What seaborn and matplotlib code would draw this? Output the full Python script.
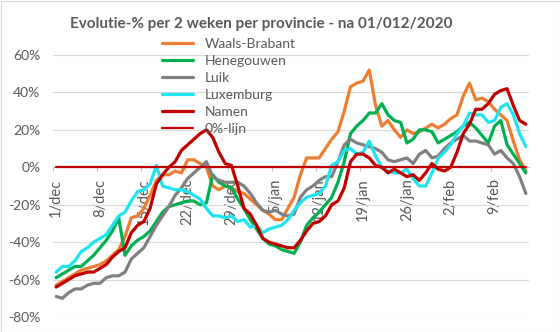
import matplotlib
matplotlib.use("Agg")
import matplotlib.pyplot as plt
import seaborn as sns
import pandas as pd
import numpy as np

# ---------------- data ----------------
days = list(range(76))  # 1 dec 2020 .. 14 feb 2021
tick_days = [0, 7, 14, 21, 28, 35, 42, 49, 56, 63, 70]
tick_labels = ["1/dec", "8/dec", "15/dec", "22/dec", "29/dec", "5/jan",
               "12/jan", "19/jan", "26/jan", "2/feb", "9/feb"]

waals_brabant = [-63, -61, -59, -57, -55, -54, -53, -52, -50, -47, -44, -37, -27, -26, -22, -15,
                 -7, -4, -4, -2, -3, 4, 4, 2, 0, -10, -12, -10, -11, -13, -14, -17, -20, -23,
                 -25, -28, -28, -22, -16, -4, 5, 5, 5, 10, 15, 19, 30, 43, 45, 46, 52, 33, 22,
                 25, 20, 16, 20, 18, 19, 21, 23, 21, 23, 26, 28, 38, 45, 36, 37, 35, 31, 28,
                 25, 14, 4, -2]
henegouwen = [-59, -57, -55, -53, -53, -50, -47, -43, -39, -34, -27, -47, -42, -39, -37, -34,
              -29, -24, -21, -20, -19, -18, -18, -20, -19, -4, -8, -10, -11, -17, -22, -28, -33,
              -38, -41, -42, -44, -45, -46, -40, -31, -27, -24, -20, -16, -8, 3, 18, 22, 25, 29,
              29, 34, 28, 25, 24, 13, 15, 20, 20, 19, 13, 15, 17, 19, 22, 24, 21, 17, 13, 22,
              25, 12, 7, 2, -3]
luik = [-69, -70, -67, -65, -65, -63, -62, -62, -59, -58, -58, -56, -49, -46, -43, -37, -31,
        -26, -21, -15, -11, -6, -3, 0, 3, -5, -7, -8, -8, -8, -10, -14, -19, -23, -24, -23,
        -25, -26, -25, -16, -12, -10, -7, -5, -5, 3, 12, 15, 13, 12, 11, 10, 8, 4, 3, 4, 5,
        2, 7, 9, 5, 6, 10, 13, 15, 17, 14, 14, 13, 12, 7, 9, 5, 2, -5, -14]
luxemburg = [-56, -53, -53, -50, -45, -43, -40, -38, -36, -31, -26, -24, -18, -13, -12, -9, 1,
             -10, -11, -12, -12, -13, -15, -17, -22, -26, -26, -27, -26, -29, -28, -32, -31,
             -35, -33, -32, -31, -28, -23, -19, -16, -15, -14, -10, 1, 3, 9, 10, 7, 8, 14, 6,
             0, -2, -3, -3, -1, -6, -10, -10, -3, 5, 8, 12, 18, 22, 29, 28, 28, 24, 25, 32, 34,
             28, 18, 11]
namen = [-64, -62, -60, -58, -57, -56, -56, -54, -52, -48, -45, -43, -35, -31, -29, -22, -9,
         -4, 0, 3, 9, 12, 15, 18, 20, 16, 8, 2, 1, -10, -22, -25, -31, -38, -40, -41, -42, -43,
         -43, -39, -34, -30, -29, -26, -20, -18, -11, 3, 7, 7, 5, 1, 0, -3, -1, -3, -5, -4,
         -7, -3, 2, -1, -2, 0, 8, 18, 23, 31, 31, 34, 39, 41, 42, 33, 25, 23]
nul_lijn = [0] * 76

series_names = ["Waals-Brabant", "Henegouwen", "Luik", "Luxemburg", "Namen"]
series_values = [waals_brabant, henegouwen, luik, luxemburg, namen]
colors = ["#ED7D31", "#00B050", "#808080", "#1EE3F0", "#C00000"]
zero_color = "#C00000"

# ---------------- style ----------------
sns.set_theme(style="white")
FONT = ["Lato", "DejaVu Sans"]
plt.rcParams["font.family"] = FONT
TXT = "#595959"

fig = plt.figure(figsize=(5.6, 3.32), dpi=100)
W, H = 560, 332
ax = fig.add_axes([53 / W, 15 / H, 476 / W, 262 / H])

df = pd.DataFrame({
    "dag": np.tile(days, len(series_names)),
    "waarde": np.concatenate(series_values),
    "provincie": np.repeat(series_names, len(days)),
})
df0 = pd.DataFrame({"dag": days, "waarde": nul_lijn, "provincie": "0%-lijn"})

sns.lineplot(data=df, x="dag", y="waarde", hue="provincie", hue_order=series_names,
             palette=colors, linewidth=2.3, ax=ax, legend=False, zorder=3)
sns.lineplot(data=df0, x="dag", y="waarde", color=zero_color, linewidth=1.6, ax=ax,
             legend=False, zorder=4)

ax.set_xlim(-0.5, 75.5)
ax.set_ylim(-80, 60)
yt = list(range(-80, 61, 20))
ax.set_yticks(yt)
ax.set_yticklabels([f"{v}%" for v in yt])
ax.yaxis.grid(True, color="#D9D9D9", linewidth=0.8, zorder=0)
ax.xaxis.grid(False)
ax.set_axisbelow(True)

for s in ["top", "right", "left"]:
    ax.spines[s].set_visible(False)
ax.spines["bottom"].set_position(("data", 0))
ax.spines["bottom"].set_color("#BFBFBF")
ax.spines["bottom"].set_linewidth(0.8)

ax.set_xticks(tick_days)
ax.set_xticklabels(tick_labels, rotation=90, va="top", ha="center")
ax.set_xticks([d - 0.5 for d in tick_days], minor=True)
ax.tick_params(axis="x", which="major", length=0, pad=8, labelsize=10.5, labelcolor=TXT)
ax.tick_params(axis="x", which="minor", length=3, width=0.8, color="#BFBFBF", direction="out",
               bottom=True)
ax.tick_params(axis="y", length=0, pad=9, labelsize=10, labelcolor=TXT)
ax.set_xlabel("")
ax.set_ylabel("")

# legend
handles = [plt.Line2D([], [], color=c, linewidth=2.3) for c in colors]
handles.append(plt.Line2D([], [], color=zero_color, linewidth=1.6))
labels = series_names + ["0%-lijn"]
leg = fig.legend(handles, labels, loc="upper left", bbox_to_anchor=(162 / W, 1 - 38 / H),
                 bbox_transform=fig.transFigure, frameon=False, fontsize=10,
                 handlelength=2.2, handletextpad=0.85, labelspacing=0.36, borderpad=0,
                 borderaxespad=0)
for t in leg.get_texts():
    t.set_color(TXT)

fig.text(261 / W, 1 - 24 / H, "Evolutie-% per 2 weken per provincie - na 01/012/2020",
         ha="center", va="center", fontsize=11, fontweight="bold", color=TXT)

# chart border
fig.patches.append(matplotlib.patches.Rectangle((0.5 / W, 0.5 / H), 1 - 1 / W, 1 - 1 / H,
                                                transform=fig.transFigure, fill=False,
                                                edgecolor="#D9D9D9", linewidth=0.8))

fig.savefig("out.png", dpi=100)
